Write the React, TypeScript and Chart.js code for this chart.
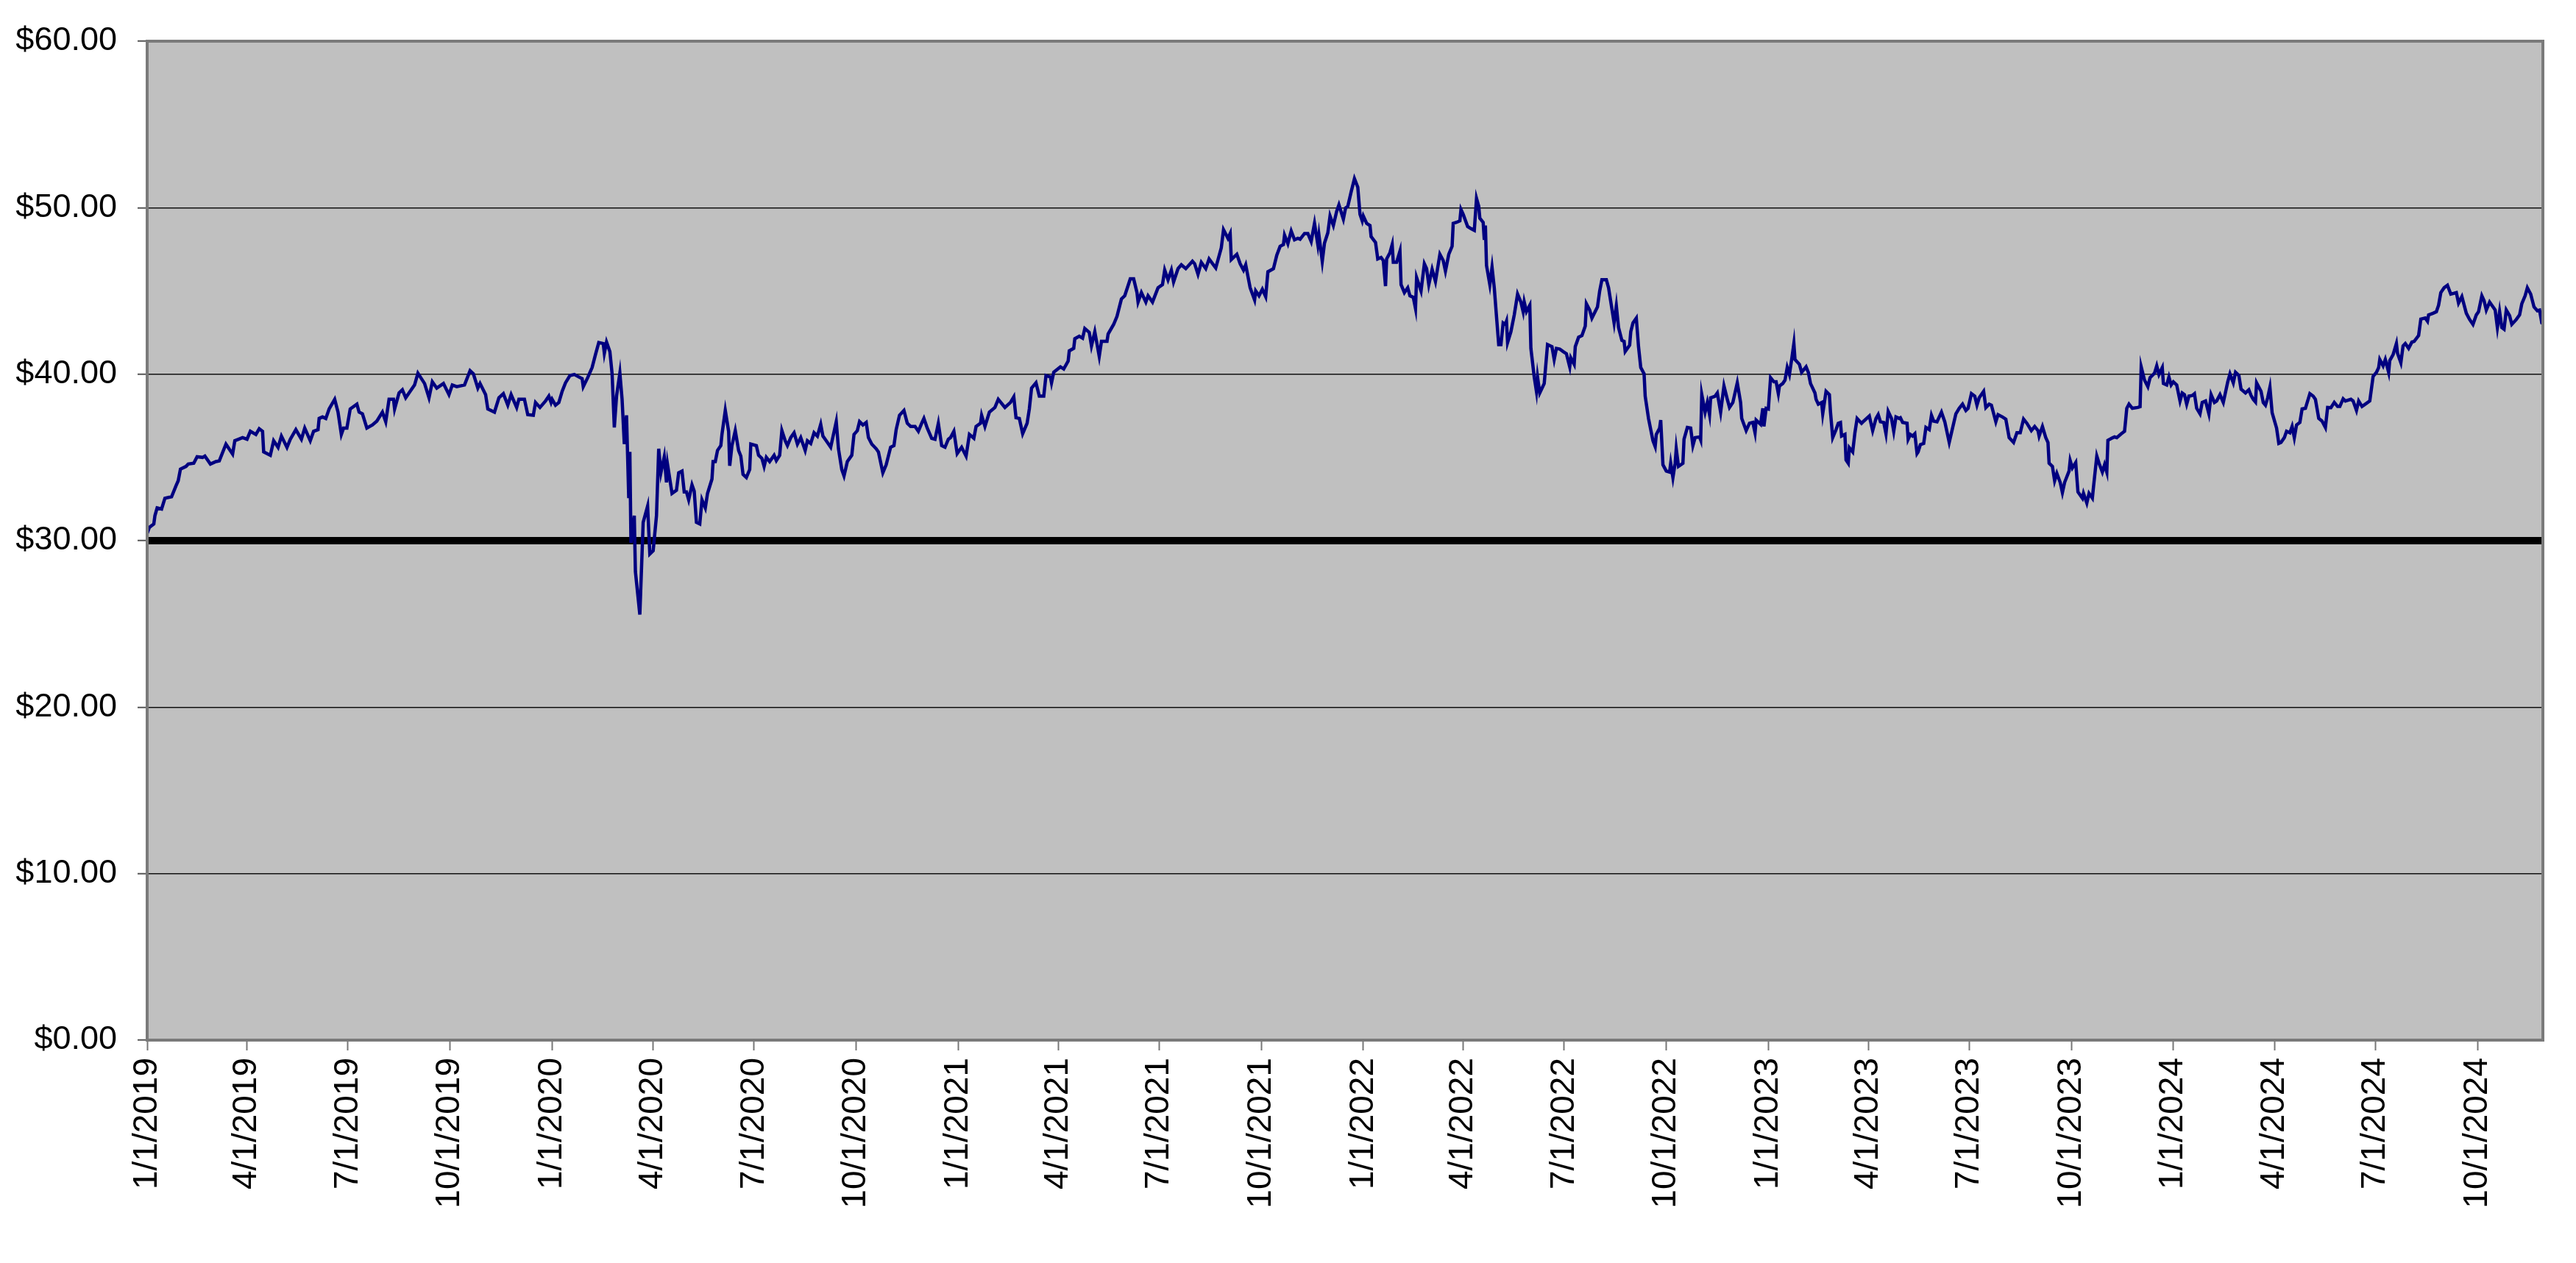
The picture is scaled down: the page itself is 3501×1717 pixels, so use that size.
import { useEffect, useRef } from 'react';
import { Chart, registerables } from 'chart.js';

Chart.register(...registerables);

// closing price as [day of year, price]
const prices2019: [number, number][] = [
  [0, 30.44], [2, 30.8], [6, 31.0], [7, 31.5], [9, 31.97], [13, 31.9], [16, 32.55], [22, 32.64], [26, 33.3], [28, 33.6],
  [30, 34.3], [35, 34.46], [37, 34.6], [42, 34.65], [45, 35.04], [50, 35.0], [52, 35.08], [57, 34.6], [62, 34.75], [65, 34.79],
  [71, 35.8], [77, 35.2], [79, 36.0], [86, 36.19], [90, 36.09], [93, 36.57], [98, 36.38], [101, 36.72], [104, 36.57], [105, 35.33],
  [111, 35.13], [114, 36.0], [118, 35.6], [121, 36.28], [126, 35.6], [129, 36.09], [134, 36.67], [139, 36.09], [142, 36.76], [147, 36.0],
  [150, 36.57], [154, 36.67], [155, 37.34], [158, 37.43], [161, 37.34], [164, 37.91], [169, 38.49], [172, 37.72], [175, 36.38], [177, 36.76],
  [180, 36.76], [183, 37.91], [189, 38.2], [191, 37.72], [194, 37.62], [198, 36.76], [203, 36.95], [207, 37.18], [212, 37.72], [215, 37.14],
  [218, 38.49], [222, 38.49], [223, 37.91], [227, 38.87], [230, 39.06], [233, 38.58], [237, 38.97], [241, 39.35], [244, 40.06], [250, 39.44],
  [254, 38.58], [257, 39.54], [261, 39.16], [267, 39.44], [272, 38.77], [275, 39.35], [279, 39.25], [286, 39.35], [291, 40.21], [294, 40.02],
  [298, 39.16], [300, 39.44], [305, 38.77], [307, 37.91], [313, 37.72], [317, 38.58], [321, 38.83], [325, 38.14], [328, 38.77], [333, 38.0],
  [335, 38.49], [340, 38.49], [343, 37.57], [348, 37.53], [350, 38.3], [354, 38.0], [359, 38.39], [362, 38.68], [364, 38.3],
];

const prices2020: [number, number][] = [
  [0, 38.49], [3, 38.14], [6, 38.3], [9, 38.97], [12, 39.48], [16, 39.92], [20, 39.98], [23, 39.87], [27, 39.73], [28, 39.25],
  [32, 39.79], [36, 40.4], [39, 41.17], [42, 41.9], [46, 41.84], [47, 41.26], [49, 41.93], [52, 41.36], [54, 40.02], [56, 36.8],
  [58, 38.68], [61, 40.06], [63, 38.49], [65, 35.8], [67, 37.53], [69, 32.55], [70, 35.33], [71, 29.87], [74, 31.5], [75, 28.14],
  [79, 25.56], [82, 31.1], [86, 32.07], [88, 29.2], [91, 29.39], [94, 31.5], [96, 35.52], [98, 34.08], [101, 35.04], [103, 33.5],
  [104, 34.56], [108, 32.84], [112, 33.03], [114, 34.08], [117, 34.18], [119, 32.93], [121, 32.93], [123, 32.45], [126, 33.35], [128, 32.97],
  [130, 31.1], [133, 31.0], [135, 32.45], [138, 31.97], [140, 32.84], [144, 33.7], [145, 34.75], [147, 34.75], [149, 35.42], [152, 35.71],
  [153, 36.38], [156, 37.82], [159, 36.57], [160, 34.5], [162, 35.71], [165, 36.61], [168, 35.42], [170, 35.08], [172, 33.98], [175, 33.79],
  [178, 34.27], [179, 35.8], [184, 35.71], [186, 35.13], [189, 34.94], [191, 34.46], [193, 35.0], [196, 34.75], [200, 35.13], [202, 34.81],
  [205, 35.13], [207, 36.61], [210, 36.0], [212, 35.71], [215, 36.19], [218, 36.48], [221, 35.8], [224, 36.19], [228, 35.42], [230, 36.0],
  [233, 35.84], [236, 36.48], [239, 36.28], [242, 36.99], [244, 36.28], [247, 36.0], [251, 35.61], [256, 37.15], [258, 35.52], [261, 34.27],
  [263, 33.89], [266, 34.75], [270, 35.13], [272, 36.38], [275, 36.61], [277, 37.15], [280, 36.95], [283, 37.1], [285, 36.19], [288, 35.8],
  [292, 35.52], [294, 35.33], [298, 34.08], [301, 34.56], [305, 35.61], [308, 35.71], [310, 36.67], [313, 37.53], [317, 37.82], [320, 37.05],
  [323, 36.86], [327, 36.86], [330, 36.57], [333, 37.05], [335, 37.34], [338, 36.76], [342, 36.15], [345, 36.09], [348, 37.05], [351, 35.71],
  [354, 35.61], [357, 36.09], [359, 36.19], [362, 36.57], [365, 35.23],
];

const prices2021: [number, number][] = [
  [3, 35.61], [7, 35.08], [10, 36.38], [14, 36.15], [16, 36.86], [20, 37.05], [21, 37.53], [24, 36.86], [28, 37.72], [33, 38.0],
  [36, 38.49], [42, 38.0], [47, 38.3], [50, 38.64], [52, 37.38], [55, 37.34], [58, 36.42], [62, 37.05], [64, 37.91], [66, 39.16],
  [70, 39.48], [73, 38.68], [77, 38.68], [79, 39.92], [83, 39.83], [84, 39.48], [86, 40.12], [92, 40.44], [95, 40.31], [99, 40.79],
  [100, 41.4], [104, 41.55], [105, 42.13], [109, 42.28], [112, 42.16], [114, 42.74], [118, 42.51], [120, 41.7], [123, 42.55], [127, 41.07],
  [129, 41.97], [134, 41.97], [135, 42.41], [140, 42.99], [143, 43.47], [147, 44.52], [150, 44.71], [155, 45.73], [158, 45.73], [161, 44.9],
  [162, 44.33], [165, 44.9], [169, 44.33], [171, 44.71], [175, 44.33], [180, 45.19], [184, 45.38], [186, 46.25], [189, 45.67], [192, 46.25],
  [194, 45.54], [198, 46.34], [201, 46.57], [205, 46.34], [211, 46.78], [213, 46.63], [216, 46.0], [219, 46.72], [223, 46.34], [226, 46.92],
  [232, 46.38], [237, 47.59], [239, 48.68], [243, 48.16], [245, 48.45], [246, 46.88], [251, 47.2], [254, 46.63], [257, 46.25], [259, 46.57],
  [263, 45.19], [267, 44.46], [268, 45.0], [271, 44.71], [274, 45.1], [277, 44.66], [279, 46.15], [284, 46.34], [287, 47.15], [290, 47.68],
  [293, 47.78], [294, 48.35], [297, 47.84], [300, 48.6], [303, 48.07], [306, 48.16], [308, 48.1], [312, 48.45], [315, 48.45], [318, 47.97],
  [321, 49.06], [324, 47.78], [325, 48.35], [328, 46.78], [330, 47.87], [333, 48.49], [335, 49.5], [338, 48.93], [341, 49.79], [343, 50.17],
  [347, 49.31], [349, 49.98], [351, 50.08], [354, 50.94], [357, 51.74], [360, 51.23], [362, 49.6], [364, 49.21],
];

const prices2022: [number, number][] = [
  [0, 49.5], [3, 49.06], [6, 48.93], [7, 48.26], [11, 47.91], [13, 46.92], [16, 47.01], [18, 46.82], [20, 45.29], [21, 46.92],
  [24, 47.3], [26, 47.78], [27, 46.72], [30, 46.72], [33, 47.39], [34, 45.38], [37, 44.9], [40, 45.19], [42, 44.71], [45, 44.62],
  [47, 43.95], [48, 45.8], [52, 45.0], [55, 46.63], [57, 46.34], [59, 45.38], [62, 46.3], [65, 45.57], [69, 47.2], [72, 46.82],
  [74, 46.19], [77, 47.2], [80, 47.68], [81, 49.06], [84, 49.12], [87, 49.21], [88, 49.89], [90, 49.6], [94, 48.87], [97, 48.74],
  [100, 48.64], [102, 50.56], [104, 50.08], [105, 49.37], [108, 49.12], [109, 48.07], [110, 48.93], [111, 46.53], [114, 45.38], [116, 46.42],
  [118, 45.19], [120, 43.47], [122, 41.78], [124, 41.78], [126, 43.08], [128, 42.99], [129, 43.18], [130, 41.9], [133, 42.55], [136, 43.56],
  [139, 44.81], [142, 44.33], [144, 43.76], [145, 44.33], [147, 43.76], [150, 44.14], [151, 41.55], [154, 39.83], [156, 38.97], [157, 39.83],
  [159, 38.87], [163, 39.44], [166, 41.78], [170, 41.65], [172, 40.88], [174, 41.55], [177, 41.51], [180, 41.36], [183, 41.23], [186, 40.44],
  [187, 40.98], [190, 40.59], [191, 41.65], [194, 42.22], [197, 42.32], [200, 42.89], [201, 44.23], [204, 43.85], [206, 43.37], [211, 44.04],
  [213, 45.0], [215, 45.67], [219, 45.67], [221, 45.19], [226, 43.08], [228, 44.1], [230, 42.8], [233, 42.03], [235, 41.97], [236, 41.36],
  [240, 41.74], [241, 42.55], [243, 43.08], [246, 43.37], [248, 41.65], [250, 40.4], [253, 40.02], [254, 38.68], [257, 37.34], [261, 36.0],
  [263, 35.65], [264, 36.38], [267, 36.76], [268, 37.24], [270, 34.56], [273, 34.18], [276, 34.12], [277, 34.65], [279, 33.79], [281, 34.65],
  [282, 35.52], [284, 34.46], [288, 34.65], [289, 36.09], [292, 36.8], [295, 36.76], [297, 35.71], [299, 36.19], [303, 36.23], [304, 36.05],
  [305, 38.77], [308, 37.72], [310, 38.3], [312, 37.57], [313, 38.58], [317, 38.68], [319, 38.87], [322, 37.72], [325, 39.29], [328, 38.49],
  [330, 38.0], [333, 38.3], [337, 39.48], [340, 38.3], [341, 37.34], [345, 36.61], [348, 37.05], [351, 37.1], [353, 36.48], [354, 37.24],
  [358, 36.99], [360, 37.95], [361, 36.86], [363, 37.95],
];

const prices2023: [number, number][] = [
  [0, 37.91], [2, 39.79], [5, 39.54], [7, 39.54], [9, 38.83], [10, 39.29], [13, 39.44], [15, 39.64], [17, 40.4], [19, 39.98],
  [21, 40.88], [23, 41.84], [24, 40.88], [28, 40.59], [30, 40.11], [34, 40.44], [36, 40.11], [38, 39.44], [42, 38.87], [43, 38.49],
  [45, 38.2], [48, 38.3], [49, 37.62], [52, 38.97], [55, 38.77], [56, 37.72], [58, 36.19], [61, 36.67], [63, 37.05], [65, 37.1],
  [66, 36.28], [69, 36.38], [70, 34.85], [72, 34.65], [73, 35.58], [76, 35.33], [78, 36.48], [80, 37.34], [84, 37.05], [86, 37.18],
  [91, 37.49], [94, 36.61], [97, 37.34], [99, 37.57], [101, 37.14], [104, 37.1], [106, 36.42], [108, 37.76], [111, 37.34], [113, 36.57],
  [115, 37.43], [118, 37.34], [119, 37.38], [121, 37.1], [125, 37.05], [126, 36.09], [128, 36.38], [130, 36.28], [132, 36.42], [134, 35.23],
  [135, 35.33], [137, 35.77], [140, 35.84], [142, 36.8], [145, 36.67], [147, 37.53], [149, 37.18], [152, 37.14], [156, 37.72], [159, 37.14],
  [163, 35.9], [166, 36.76], [169, 37.62], [172, 37.95], [175, 38.2], [178, 37.82], [180, 37.95], [183, 38.83], [186, 38.68], [188, 38.14],
  [190, 38.58], [194, 38.97], [196, 37.99], [199, 38.2], [201, 38.14], [205, 37.14], [207, 37.57], [211, 37.43], [214, 37.3], [217, 36.19],
  [221, 35.9], [224, 36.48], [227, 36.48], [230, 37.3], [233, 37.05], [237, 36.61], [240, 36.86], [243, 36.61], [244, 36.28], [247, 36.86],
  [250, 36.19], [252, 35.9], [253, 34.65], [256, 34.46], [258, 33.6], [260, 34.04], [263, 33.5], [265, 32.89], [267, 33.5], [271, 34.18],
  [272, 34.81], [274, 34.37], [277, 34.69], [279, 32.93], [283, 32.55], [284, 32.84], [287, 32.26], [289, 32.84], [292, 32.55], [293, 33.22],
  [296, 35.08], [298, 34.65], [301, 34.12], [303, 34.56], [305, 34.12], [306, 36.03], [310, 36.17], [312, 36.23], [314, 36.19], [318, 36.42],
  [321, 36.57], [322, 37.24], [323, 37.95], [325, 38.2], [328, 37.95], [333, 38.0], [335, 38.05], [336, 40.44], [339, 39.64], [342, 39.25],
  [344, 39.79], [348, 40.06], [350, 40.5], [352, 39.98], [355, 40.4], [356, 39.44], [359, 39.35], [361, 39.83], [363, 39.35],
];

const prices2024: [number, number][] = [
  [0, 39.54], [3, 39.35], [6, 38.39], [8, 38.87], [10, 38.77], [12, 38.2], [14, 38.68], [17, 38.72], [19, 38.83], [21, 37.95],
  [24, 37.62], [26, 38.3], [29, 38.39], [32, 37.62], [34, 38.77], [37, 38.3], [39, 38.39], [42, 38.77], [45, 38.3], [49, 39.54],
  [51, 40.02], [54, 39.48], [56, 40.11], [59, 39.92], [61, 39.1], [65, 38.87], [68, 39.06], [70, 38.72], [72, 38.49], [74, 38.33],
  [75, 39.48], [79, 38.97], [81, 38.3], [83, 38.14], [85, 38.58], [87, 39.21], [89, 37.68], [93, 36.76], [95, 35.84], [97, 35.9],
  [100, 36.19], [102, 36.57], [105, 36.48], [107, 36.86], [109, 36.19], [111, 36.95], [114, 37.1], [116, 37.91], [119, 37.95], [121, 38.39],
  [123, 38.83], [126, 38.68], [128, 38.49], [131, 37.34], [134, 37.18], [137, 36.8], [139, 38.0], [142, 37.99], [145, 38.3], [148, 38.06],
  [150, 38.06], [153, 38.52], [155, 38.39], [160, 38.49], [162, 38.39], [165, 37.82], [167, 38.39], [170, 38.06], [173, 38.2], [177, 38.39],
  [180, 39.87], [183, 40.11], [185, 40.4], [186, 40.88], [189, 40.5], [191, 40.88], [194, 40.11], [195, 40.82], [198, 41.17], [201, 41.84],
  [202, 41.26], [205, 40.69], [207, 41.7], [209, 41.84], [212, 41.55], [215, 41.93], [217, 41.97], [221, 42.32], [223, 43.31], [227, 43.37],
  [229, 43.18], [230, 43.56], [234, 43.66], [237, 43.75], [239, 44.14], [241, 44.9], [244, 45.19], [247, 45.34], [250, 44.81], [253, 44.86],
  [255, 44.9], [257, 44.27], [260, 44.66], [264, 43.66], [267, 43.28], [270, 42.99], [273, 43.56], [275, 43.75], [278, 44.71], [280, 44.42],
  [282, 43.85], [285, 44.33], [287, 44.14], [289, 43.95], [290, 43.85], [292, 42.8], [294, 43.75], [296, 42.8], [298, 42.7], [300, 43.85],
  [303, 43.51], [305, 42.99], [309, 43.28], [312, 43.56], [314, 44.23], [317, 44.71], [319, 45.19], [322, 44.81], [325, 44.04], [328, 43.81],
  [330, 43.85], [332, 43.08], [333, 43.05],
];

const priceYears: [number, [number, number][]][] = [
  [2019, prices2019], [2020, prices2020], [2021, prices2021],
  [2022, prices2022], [2023, prices2023], [2024, prices2024],
];

const tickLabels = [
  '1/1/2019', '4/1/2019', '7/1/2019', '10/1/2019',
  '1/1/2020', '4/1/2020', '7/1/2020', '10/1/2020',
  '1/1/2021', '4/1/2021', '7/1/2021', '10/1/2021',
  '1/1/2022', '4/1/2022', '7/1/2022', '10/1/2022',
  '1/1/2023', '4/1/2023', '7/1/2023', '10/1/2023',
  '1/1/2024', '4/1/2024', '7/1/2024', '10/1/2024',
];

const thresholdPrice = 30;

const DAY = 86400000;
const FONT = "'Liberation Sans', Arial, sans-serif";

const parseLabel = (s: string) => {
  const [m, d, y] = s.split('/').map(Number);
  return Date.UTC(y, m - 1, d);
};

const formatDate = (t: number) => {
  const d = new Date(t);
  return `${d.getUTCMonth() + 1}/${d.getUTCDate()}/${d.getUTCFullYear()}`;
};

const plotFrame = {
  id: 'plotFrame',
  beforeDraw(chart: any) {
    const { ctx, chartArea: a } = chart;
    ctx.save();
    ctx.fillStyle = '#c0c0c0';
    ctx.fillRect(a.left, a.top, a.right - a.left, a.bottom - a.top);
    ctx.restore();
  },
  afterDraw(chart: any) {
    const { ctx, chartArea: a } = chart;
    ctx.save();
    ctx.strokeStyle = '#7a7a7a';
    ctx.lineWidth = 4;
    ctx.strokeRect(a.left, a.top, a.right - a.left, a.bottom - a.top);
    ctx.restore();
  },
};

export default function App() {
  const canvasRef = useRef<HTMLCanvasElement>(null);

  useEffect(() => {
    document.body.style.margin = '0';
    const points = priceYears.flatMap(([year, rows]) =>
      rows.map(([doy, price]) => ({ x: Date.UTC(year, 0, 1) + doy * DAY, y: price }))
    );
    const xMin = points[0].x;
    const xMax = points[points.length - 1].x;

    const chart = new Chart(canvasRef.current!, {
      type: 'line',
      data: {
        datasets: [
          {
            data: points,
            borderColor: '#000080',
            borderWidth: 4.5,
            pointRadius: 0,
            tension: 0,
          },
          {
            data: [{ x: xMin, y: thresholdPrice }, { x: xMax, y: thresholdPrice }],
            borderColor: '#000000',
            borderWidth: 10,
            pointRadius: 0,
          },
        ],
      },
      plugins: [plotFrame],
      options: {
        animation: false,
        responsive: true,
        maintainAspectRatio: false,
        layout: { padding: { left: 0, top: 56, right: 45, bottom: 0 } },
        plugins: { legend: { display: false }, tooltip: { enabled: false } },
        scales: {
          x: {
            type: 'linear',
            min: xMin,
            max: xMax,
            afterFit: (s: any) => { s.height = 303; },
            afterBuildTicks: (s: any) => {
              s.ticks = tickLabels.map((l) => ({ value: parseLabel(l) }));
            },
            border: { display: false },
            grid: { drawOnChartArea: false, drawTicks: true, tickLength: 14, tickColor: '#777777', tickWidth: 2 },
            ticks: {
              autoSkip: false,
              minRotation: 90,
              maxRotation: 90,
              padding: 10,
              color: '#000000',
              font: { family: FONT, size: 46 },
              callback: (v: any) => formatDate(Number(v)),
            },
          },
          y: {
            min: 0,
            max: 60,
            afterFit: (s: any) => { s.width = 200; },
            border: { display: false },
            grid: { color: '#111111', lineWidth: 1.5, drawTicks: true, tickLength: 13, tickColor: '#555555', tickWidth: 2 },
            ticks: {
              stepSize: 10,
              padding: 28,
              color: '#000000',
              font: { family: FONT, size: 45 },
              callback: (v: any) => '$' + Number(v).toFixed(2),
            },
          },
        },
      },
    });
    return () => chart.destroy();
  }, []);

  return (
    <div style={{ position: 'absolute', left: 0, top: 0, width: 3501, height: 1717 }}>
      <canvas ref={canvasRef} />
    </div>
  );
}
